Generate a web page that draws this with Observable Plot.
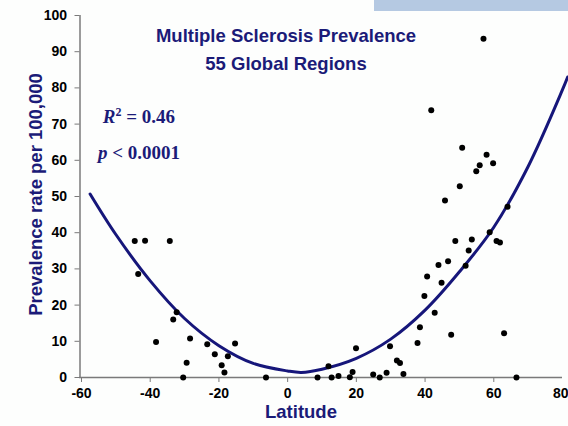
<!DOCTYPE html>
<html><head><meta charset="utf-8">
<script src="https://cdn.jsdelivr.net/npm/d3@7"></script>
<script src="https://cdn.jsdelivr.net/npm/@observablehq/plot@0.6"></script>
<style>
html,body{margin:0;padding:0;background:#fff;}
#chart{position:relative;width:568px;height:426px;overflow:hidden;background:#fdfefd;}
#band{position:absolute;left:374px;top:0;width:194px;height:11px;background:#b5c9e2;}
svg{position:absolute;left:0;top:0;}
</style></head><body><div id="chart"><div id="band"></div></div>
<script>
// Scatter: latitude (degrees) and MS prevalence per 100,000
const latitude = [
  -44.5, -41.5, -34.3, -43.5, -33.3, -32.3, -38.3, -28.4, -29.4, -30.4, -23.4, -21.2, -17.4, -15.3, -19.2, -18.4, -6.3,
  8.7, 11.9, 12.8, 14.8, 18.1, 18.9, 19.9, 24.9, 26.8, 28.8, 29.8, 31.8, 32.7, 33.7, 37.8, 38.5,
  39.8, 40.6, 42.8, 43.9, 44.8, 45.8, 46.7, 47.6, 48.8, 50.1, 50.8, 51.8, 52.7, 53.6, 54.9, 55.9, 57.0, 57.9, 58.8, 59.8, 60.8, 61.8, 63.0, 64.0, 66.6, 41.8
];
const prevalence = [
  37.7, 37.8, 37.7, 28.6, 16.0, 18.0, 9.8, 10.8, 4.1, 0, 9.2, 6.4, 5.9, 9.4, 3.4, 1.4, 0,
  0, 3.1, 0, 0.4, 0.1, 1.5, 8.1, 0.8, 0, 1.3, 8.6, 4.7, 4.0, 1.0, 9.5, 13.9,
  22.5, 27.9, 17.9, 31.1, 26.2, 48.9, 32.1, 11.8, 37.7, 52.8, 63.5, 30.9, 35.1, 38.1, 57.0, 58.6, 93.6, 61.5, 40.1, 59.2, 37.7, 37.3, 12.2, 47.2, 0, 73.8
];
// Fitted curve
const curveLatitude = [-57.5, -50, -40, -30, -20, -10, 0, 4, 10, 20, 30, 40, 50, 60, 70, 80, 81.5];
const curvePrevalence = [50.7, 39.5, 26.7, 16.3, 8.8, 3.9, 1.8, 1.4, 2.3, 5.3, 10.6, 18.6, 29.2, 41.5, 58.3, 79.5, 83];
const xTicks = [-60, -40, -20, 0, 20, 40, 60];
const xLastTick = [80];
const yTicks = [0, 10, 20, 30, 40, 50, 60, 70, 80, 90, 100];
const titleLines = ["Multiple Sclerosis Prevalence", "55 Global Regions"];
const xLabel = "Latitude";
const yLabel = "Prevalence rate per 100,000";
const r2Text = ["R", "2", " = 0.46"];
const pText = ["p", " < 0.0001"];

const navy = "#1b1b78";
const points = latitude.map((d, i) => ({lat: d, val: prevalence[i]}));
const curve = curveLatitude.map((d, i) => ({lat: d, val: curvePrevalence[i]}));
const axisStyle = {tickSize: 5, tickPadding: 6, tickFormat: d => String(d), fontSize: 14, fontWeight: "bold", stroke: "#7a7a7a", fill: "black", label: null};

const plot = Plot.plot({
  width: 568, height: 426,
  marginLeft: 81, marginRight: 6, marginTop: 15, marginBottom: 49,
  style: {fontFamily: "'Liberation Sans', Arial, sans-serif", background: "transparent", color: "black", overflow: "visible"},
  x: {domain: [-60, 80]},
  y: {domain: [0, 100]},
  marks: [
    Plot.ruleY([0], {stroke: "#7a7a7a", strokeWidth: 1.5, insetLeft: -2}),
    Plot.ruleX([-60], {stroke: "#7a7a7a", strokeWidth: 1.5, dx: -1.5}),
    Plot.axisX({ticks: xTicks, ...axisStyle}),
    Plot.axisX({ticks: xLastTick, ...axisStyle, textAnchor: "end", dx: 6}),
    Plot.axisY({ticks: yTicks, ...axisStyle, tickPadding: 8, dx: -1.5}),
    Plot.line(curve, {x: "lat", y: "val", curve: "catmull-rom", stroke: "#16167a", strokeWidth: 3}),
    Plot.dot(points, {x: "lat", y: "val", r: 3, fill: "black", stroke: "none"})
  ]
});

const svg = d3.select(plot);
const sans = "'Liberation Sans', Arial, sans-serif";
const serif = "'Liberation Serif', 'Times New Roman', serif";
titleLines.forEach((t, i) => {
  svg.append("text").attr("x", 286).attr("y", 41.5 + i * 28)
    .attr("text-anchor", "middle").attr("font-family", sans).attr("font-weight", "bold")
    .attr("font-size", 18.5).attr("fill", navy).text(t);
});
svg.append("text").attr("x", 301).attr("y", 418).attr("text-anchor", "middle")
  .attr("font-family", sans).attr("font-weight", "bold").attr("font-size", 18.5).attr("fill", navy).text(xLabel);
svg.append("text").attr("transform", "translate(42,194.5) rotate(-90)").attr("text-anchor", "middle")
  .attr("font-family", sans).attr("font-weight", "bold").attr("font-size", 18.5).attr("fill", navy).text(yLabel);

const r2 = svg.append("text").attr("x", 139).attr("y", 123).attr("font-family", serif)
  .attr("font-weight", "bold").attr("font-size", 19).attr("fill", navy);
r2.append("tspan").attr("font-style", "italic").text(r2Text[0]);
r2.append("tspan").attr("font-size", 12).attr("dy", -7).text(r2Text[1]);
r2.append("tspan").attr("dy", 7).text(r2Text[2]);
const pt = svg.append("text").attr("x", 139).attr("y", 159).attr("font-family", serif)
  .attr("font-weight", "bold").attr("font-size", 19).attr("fill", navy);
pt.append("tspan").attr("font-style", "italic").text(pText[0]);
pt.append("tspan").text(pText[1]);

document.getElementById("chart").appendChild(plot);
</script>
</body></html>
